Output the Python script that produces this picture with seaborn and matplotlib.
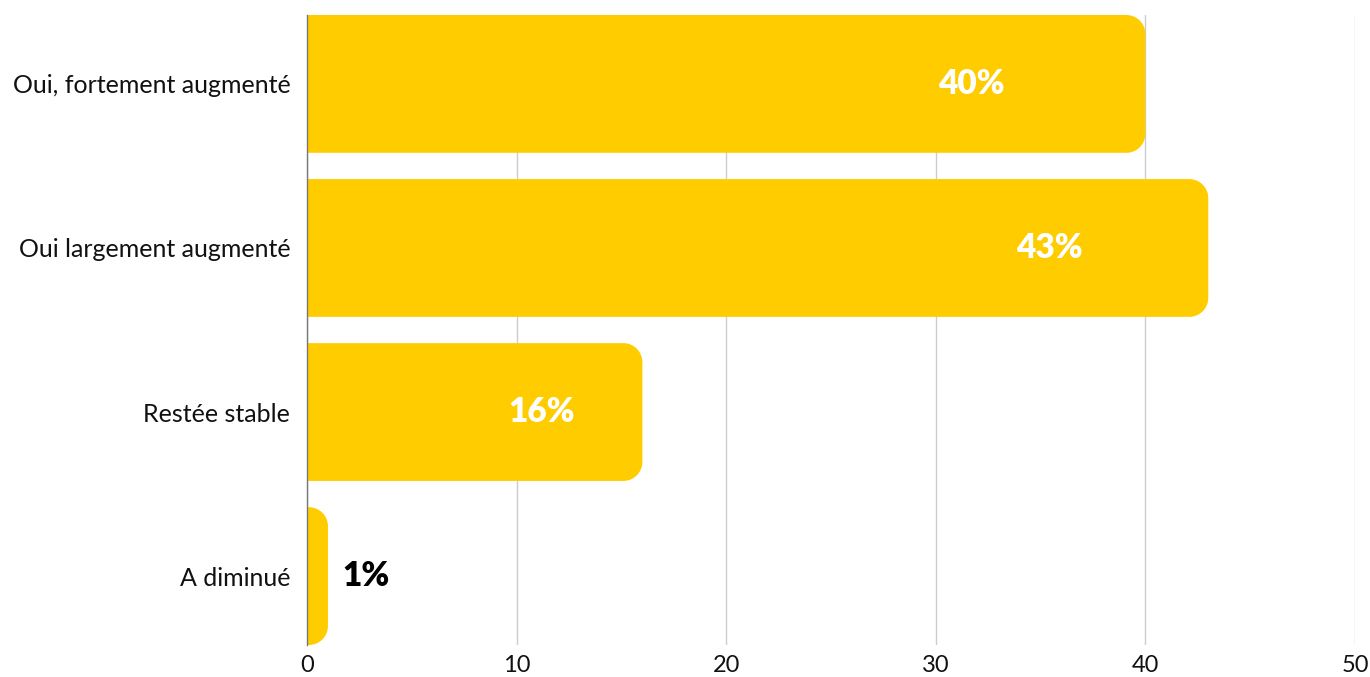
import matplotlib
matplotlib.use("Agg")
import matplotlib.pyplot as plt
import numpy as np
import pandas as pd
import seaborn as sns
from matplotlib.path import Path
from matplotlib.patches import PathPatch

# data
categories = ["Oui, fortement augmenté", "Oui largement augmenté", "Restée stable", "A diminué"]
values = [40, 43, 16, 1]
value_labels = ["40%", "43%", "16%", "1%"]
x_ticks = [0, 10, 20, 30, 40, 50]

# label placement (x units back from the bar end; negative = outside)
label_back = [8.3, 7.6, 4.8, -1.8]

BAR_COLOR = "#FFCC00"
W, H, DPI = 1370, 677, 100


def rounded_right_bar(x0, y0, w, h, rx, ry):
    """Path for a bar with square left edge and rounded right corners."""
    rx = min(rx, w)
    ry = min(ry, h / 2)
    k = 0.5523
    x1, y1 = x0 + w, y0 + h
    verts = [
        (x0, y0),
        (x1 - rx, y0),
        (x1 - rx + k * rx, y0), (x1, y0 + ry - k * ry), (x1, y0 + ry),
        (x1, y1 - ry),
        (x1, y1 - ry + k * ry), (x1 - rx + k * rx, y1), (x1 - rx, y1),
        (x0, y1),
        (x0, y0),
    ]
    codes = [Path.MOVETO, Path.LINETO,
             Path.CURVE4, Path.CURVE4, Path.CURVE4,
             Path.LINETO,
             Path.CURVE4, Path.CURVE4, Path.CURVE4,
             Path.LINETO, Path.CLOSEPOLY]
    return Path(verts, codes)


def main():
    sns.set_theme(style="white")
    plt.rcParams["font.family"] = ["Lato", "DejaVu Sans"]

    df = pd.DataFrame({"category": categories, "value": values})

    fig = plt.figure(figsize=(W / DPI, H / DPI), dpi=DPI)
    ax = fig.add_axes([307 / W, 1 - 645 / H, (1355 - 307) / W, (645 - 15) / H])

    bar_h = 0.84
    sns.barplot(data=df, x="value", y="category", orient="h", color=BAR_COLOR,
                width=bar_h, saturation=1, ax=ax)

    ax.set_xlim(0, 50)
    ax.set_ylim(len(categories) - 1 + bar_h / 2, -bar_h / 2)

    # swap plain rectangles for bars with rounded right ends
    px_x = (1355 - 307) / 50
    px_y = (645 - 15) / (len(categories) - 1 + bar_h)
    r_px = 19
    for p in list(ax.patches):
        x0, y0 = p.get_x(), p.get_y()
        w, h = p.get_width(), p.get_height()
        p.remove()
        path = rounded_right_bar(x0, y0, w, h, r_px / px_x, r_px / px_y)
        ax.add_patch(PathPatch(path, facecolor=BAR_COLOR, edgecolor="none", zorder=2))

    for i, (v, lab, back) in enumerate(zip(values, value_labels, label_back)):
        inside = back > 0
        ax.text(v - back, i, lab, ha="center", va="center",
                color="white" if inside else "black",
                fontsize=24, fontweight="heavy", zorder=3)

    ax.set_xticks(x_ticks)
    ax.set_xticklabels([str(t) for t in x_ticks], fontsize=17, color="#111111")
    ax.tick_params(axis="y", labelsize=18, labelcolor="#111111", length=0, pad=12)
    ax.tick_params(axis="x", length=0, pad=7)
    ax.set_xlabel("")
    ax.set_ylabel("")

    ax.grid(axis="x", color="#cccccc", linewidth=1)
    ax.set_axisbelow(True)
    for side in ["top", "right", "bottom"]:
        ax.spines[side].set_visible(False)
    ax.spines["left"].set_color("#777777")
    ax.spines["left"].set_linewidth(1)

    fig.savefig("out.png", dpi=DPI)
    plt.close(fig)


if __name__ == "__main__":
    main()
